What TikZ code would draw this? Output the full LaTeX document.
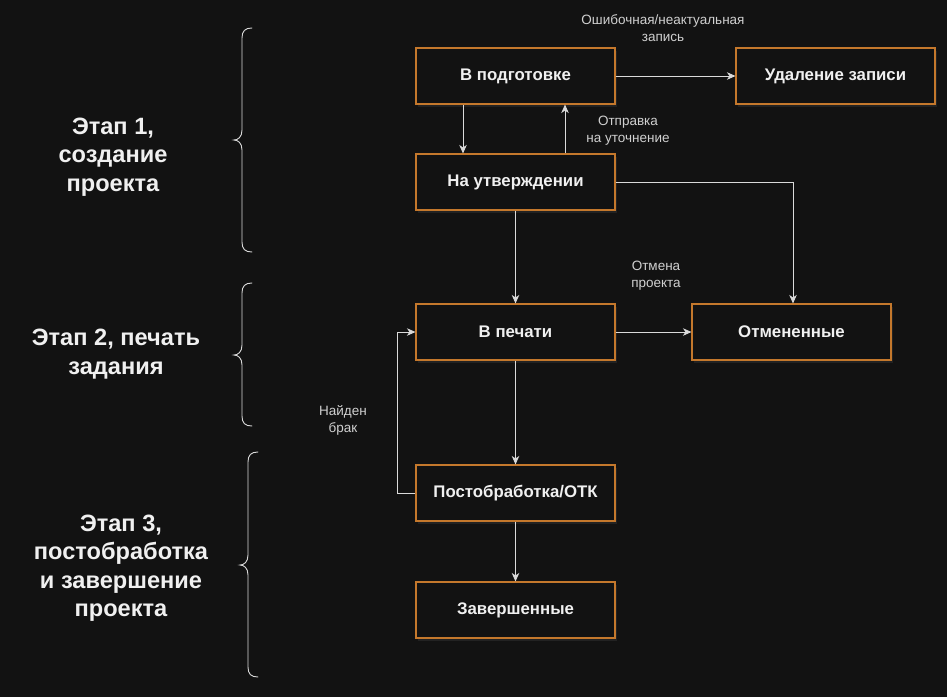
\documentclass[tikz,border=0pt]{standalone}
\usepackage{fontspec}
\setmainfont{Liberation Sans}
\usetikzlibrary{arrows.meta,shadows}
\definecolor{bgc}{HTML}{121212}
\definecolor{orng}{HTML}{C4782C}
\definecolor{txt}{HTML}{F0F0F0}
\definecolor{lbl}{HTML}{D0D0D0}
\definecolor{lnc}{HTML}{DADADA}
\tikzset{
  box/.style={draw=orng, line width=1.1pt, fill=bgc, minimum width=199pt, minimum height=56pt,
    text=txt, font=\bfseries\fontsize{16.8}{19}\selectfont, inner sep=0pt,
    drop shadow={shadow xshift=1.5pt, shadow yshift=-3pt, fill=white, opacity=0.07}},
  elabel/.style={text=lbl, font=\fontsize{13.5}{17}\selectfont, align=center, inner sep=0pt},
  stage/.style={text=txt, font=\bfseries\fontsize{23.6}{28.5}\selectfont, align=center, inner sep=0pt},
  conn/.style={draw=lnc, line width=0.9pt, -{Stealth[length=8.5pt,width=7.5pt,inset=2.5pt]}},
  brace/.style={draw=lnc, line width=0.9pt, line cap=round}
}
\begin{document}
\begin{tikzpicture}[x=1pt,y=-1pt]
\fill[bgc] (0,0) rectangle (947,697);
\useasboundingbox (0,0) rectangle (947,697);

% boxes
\node[box] (prep)  at (515.5,76)  {В подготовке};
\node[box] (del)   at (835.5,76)  {Удаление записи};
\node[box] (appr)  at (515.5,182) {На утверждении};
\node[box] (print) at (515.5,332) {В печати};
\node[box] (canc)  at (791.5,332) {Отмененные};
\node[box] (post)  at (515.5,493) {Постобработка/ОТК};
\node[box] (done)  at (515.5,610) {Завершенные};

% edge labels
\node[elabel] (l1) at (663,28)  {Ошибочная/неактуальная\\запись};
\node[elabel] (l2) at (628,131) {Отправка\\на уточнение};
\node[elabel] (l3) at (656,276) {Отмена\\проекта};
\node[elabel] (l4) at (343,420) {Найден\\брак};

% connectors
\draw[conn] ([xshift=-52.5pt]prep.south) -- ([xshift=-52.5pt]appr.north);
\draw[conn] ([xshift=49.5pt]appr.north) -- ([xshift=49.5pt]prep.south);
\draw[conn] (prep.east) -- (del.west);
\draw[conn] (appr.east) -| ([xshift=1.5pt]canc.north);
\draw[conn] (appr.south) -- (print.north);
\draw[conn] (print.east) -- (canc.west);
\draw[conn] (print.south) -- (post.north);
\coordinate (loopc) at (397,493);
\draw[conn] (post.west) -- (loopc) |- (print.west);
\draw[conn] (post.south) -- (done.north);

% stage texts
\node[stage] (s1) at (113,157) {Этап 1,\\создание\\проекта};
\node[stage] (s2) at (116,354) {Этап 2, печать\\задания};
\node[stage] (s3) at (121,568) {Этап 3,\\постобработка\\и завершение\\проекта};

% braces
\draw[brace] (252,28) .. controls (245,28) and (242,31) .. (242,38) -- (242,130)
  .. controls (242,137) and (238,140) .. (234,140) .. controls (238,140) and (242,143) .. (242,150)
  -- (242,242) .. controls (242,249) and (245,252) .. (252,252);
\draw[brace] (252,283) .. controls (245,283) and (242,286) .. (242,293) -- (242,345)
  .. controls (242,352) and (238,355) .. (234,355) .. controls (238,355) and (242,358) .. (242,365)
  -- (242,416) .. controls (242,423) and (245,426) .. (252,426);
\draw[brace] (258,452) .. controls (251,452) and (248,455) .. (248,462) -- (248,555)
  .. controls (248,562) and (244,565) .. (240,565) .. controls (244,565) and (248,568) .. (248,575)
  -- (248,667) .. controls (248,674) and (251,677) .. (258,677);
\end{tikzpicture}
\end{document}
